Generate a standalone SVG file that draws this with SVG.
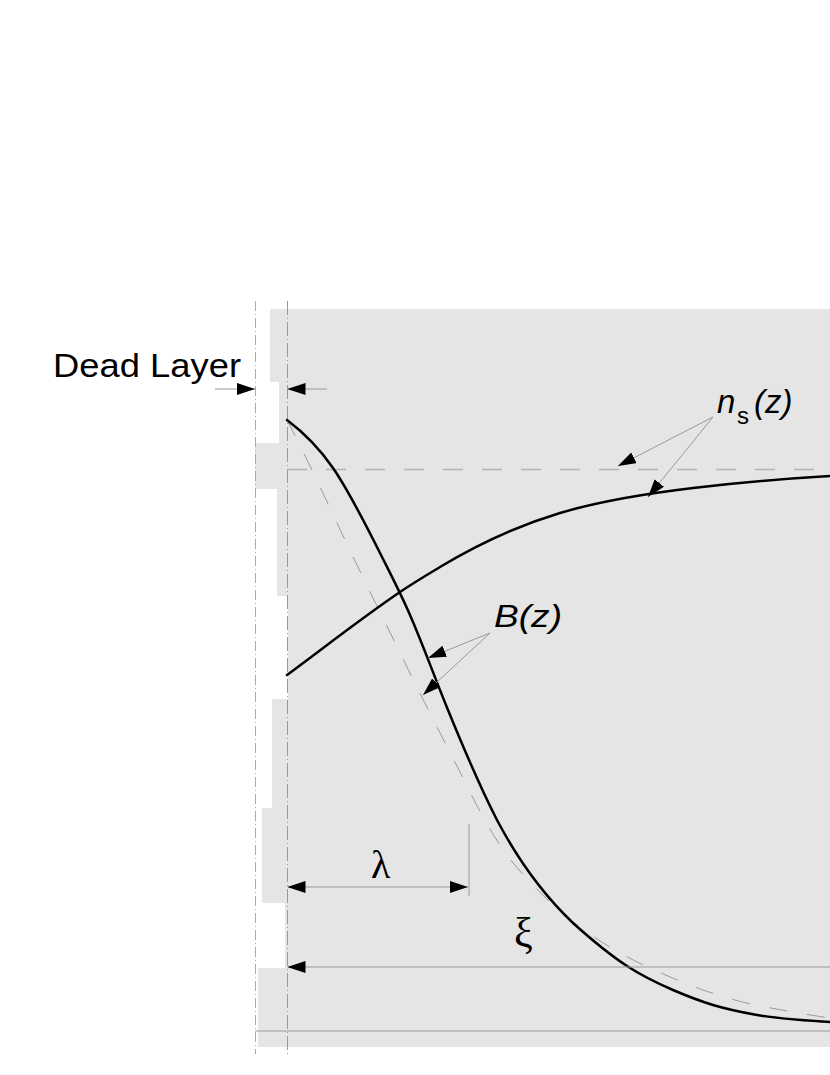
<svg xmlns="http://www.w3.org/2000/svg" width="830" height="1075" viewBox="0 0 830 1075">
<style>
.thin{fill:none;stroke:#999;stroke-width:1}
.leader{fill:none;stroke:#999;stroke-width:1}
.curve{fill:none;stroke:#000;stroke-width:2.5;stroke-linecap:round}
.dashc{fill:none;stroke:#999;stroke-width:1;stroke-dasharray:18 20}
.dashh{fill:none;stroke:#b3b3b3;stroke-width:1.5;stroke-dasharray:20 19}
.axis1{fill:none;stroke:#aaa;stroke-width:1;stroke-dasharray:10 3 1 3}
.axis2{fill:none;stroke:#999;stroke-width:1;stroke-dasharray:14 3 1 3}
.lbl{font-family:"Liberation Sans",Arial,sans-serif;fill:#000}
.greek{font-family:"Liberation Serif","Times New Roman",serif;fill:#000}
</style>
<defs>
<marker id="ah" markerUnits="userSpaceOnUse" markerWidth="18" markerHeight="12" refX="18" refY="6" orient="auto-start-reverse" viewBox="0 0 18 12">
<path d="M0,0 L18,6 L0,12 z" fill="#000"/>
</marker>
</defs>
<g id="background">
<polygon fill="#e5e5e5" points="270,309 830,309 830,1047 258,1047 258,968 285,968 285,903 262,903 262,808 272,808 272,699 288,699 288,596 277,596 277,489 255,489 255,443 279,443 279,382 270,382"/>
<line class="axis1" x1="255.5" y1="301" x2="255.5" y2="1054"/>
<line class="axis2" x1="287.5" y1="301" x2="287.5" y2="1054"/>
<line class="thin" x1="255" y1="1031" x2="830" y2="1031"/>
</g>
<g id="curves">
<path id="ns-ref" class="dashh" d="M287,469.5 H830"/>
<path id="B-dashed" class="dashc" d="M287,420 C306.3,456.7 325.7,499 345,540 C365,582.4 385,622 405,663 C426.7,707.4 448.3,748.7 470,792 C480,812 490,830 500,845 C510,860 520,871.5 530,882 C544,896.7 558,909.8 572,921 C588.7,934.3 605.3,944.7 622,954 C639.7,963.9 657.3,971.6 675,979 C693.7,986.8 712.3,993.8 731,999 C749.7,1004.2 768.3,1007.6 787,1011 C801.3,1013.6 815.7,1016 830,1018"/>
<path id="B-solid" class="curve" d="M287,420 C302.3,431.5 317.7,445.8 333,468 C348.7,490.7 364.3,521.7 380,553 C390,573 400,592 410,615 C422.7,644.1 435.3,679 448,710 C464.3,750 480.7,788.2 497,820 C522.3,868.1 547.7,898.9 573,923 C591,939.2 609,954.3 627,966 C642.3,976 657.7,983.4 673,990 C686.3,995.7 699.7,1001 713,1005 C727.7,1009.4 742.3,1012.4 757,1015 C781.3,1019.4 805.7,1020.5 830,1022"/>
<path id="ns-solid" class="curve" d="M287,675 C324.7,647.1 362.3,617.6 400,592 C413.3,582.9 426.7,575 440,567 C480,543 520,525 560,513 C604.3,499.7 648.7,493.3 693,488 C738.7,482.5 784.3,478.7 830,476"/>
</g>
<g id="connectors">
<line class="leader" x1="215" y1="389" x2="255" y2="389" marker-end="url(#ah)"/>
<line class="leader" x1="327" y1="389" x2="287.5" y2="389" marker-end="url(#ah)"/>
<line class="leader" x1="713" y1="417" x2="618" y2="466" marker-end="url(#ah)"/>
<line class="leader" x1="713" y1="417" x2="648" y2="497" marker-end="url(#ah)"/>
<line class="leader" x1="490" y1="633" x2="428" y2="658" marker-end="url(#ah)"/>
<line class="leader" x1="490" y1="633" x2="423" y2="695" marker-end="url(#ah)"/>
<line class="thin" x1="287.5" y1="887" x2="468" y2="887" marker-start="url(#ah)" marker-end="url(#ah)"/>
<line class="thin" x1="469" y1="824" x2="469" y2="896"/>
<line class="thin" x1="830" y1="967" x2="287.5" y2="967" marker-end="url(#ah)"/>
</g>
<g id="label-dead-layer">
<text class="lbl" x="53" y="377" font-size="33" textLength="188" lengthAdjust="spacingAndGlyphs">Dead Layer</text>
</g>
<g id="label-ns">
<text class="lbl" y="413" font-size="33"><tspan x="717" font-style="italic">n</tspan><tspan x="737" y="424" font-size="24">s</tspan><tspan x="754" y="413" font-style="italic">(z)</tspan></text>
</g>
<g id="label-B">
<text class="lbl" x="494" y="627" font-size="32" font-style="italic" textLength="68" lengthAdjust="spacingAndGlyphs">B(z)</text>
</g>
<g id="label-lambda">
<text class="greek" x="371" y="878" font-size="40">λ</text>
</g>
<g id="label-xi">
<text class="greek" x="514" y="947" font-size="42">ξ</text>
</g>
</svg>
